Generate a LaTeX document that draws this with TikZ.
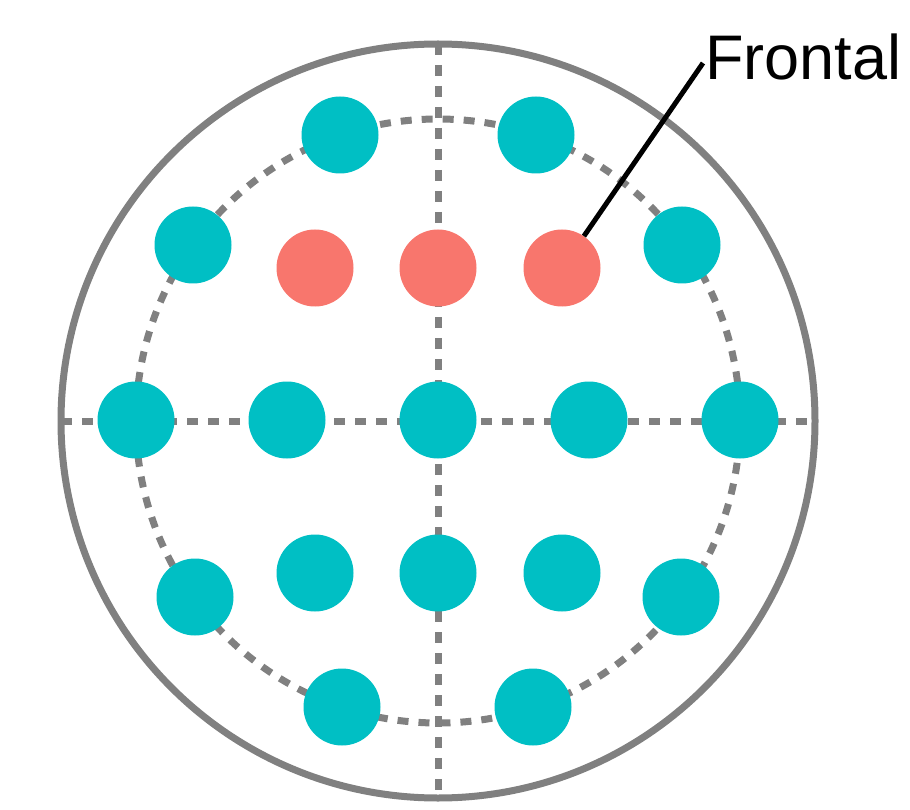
\documentclass[tikz,border=0pt]{standalone}
\usepackage{fontspec}
\setmainfont{Liberation Sans}
\definecolor{teal1}{RGB}{0,191,196}
\definecolor{red1}{RGB}{248,118,109}
\definecolor{gray1}{RGB}{128,128,128}
\tikzset{
  dot/.style={circle,minimum size=77pt,inner sep=0pt,fill=teal1},
  rdot/.style={dot,fill=red1},
  guide/.style={draw=gray1,line width=7pt,dash pattern=on 11pt off 10pt},
  rim/.style={draw=gray1,line width=7pt},
}
\begin{document}
\begin{tikzpicture}[x=1pt,y=-1pt]
\useasboundingbox (0,0) rectangle (910,810);
\coordinate (c) at (438,421);
\draw[rim] (c) circle[radius=377];
\draw[guide] (c) circle[radius=302];
\coordinate (hl) at (61,421);
\coordinate (hr) at (815,421);
\coordinate (vt) at (438,44);
\coordinate (vb) at (438,798);
\draw[guide] (hl) -- (hr);
\draw[guide] (vt) -- (vb);
% row 1
\node[dot] (a1) at (340,135) {};
\node[dot] (a2) at (536,135) {};
% row 2
\node[dot] (b1) at (193,245) {};
\node[rdot] (r1) at (315,268) {};
\node[rdot] (r2) at (438,268) {};
\node[rdot] (r3) at (562,268) {};
\node[dot] (b5) at (682,245) {};
% row 3
\node[dot] (c1) at (136,420) {};
\node[dot] (c2) at (287,420) {};
\node[dot] (c3) at (438,420) {};
\node[dot] (c4) at (589,420) {};
\node[dot] (c5) at (740,420) {};
% row 4
\node[dot] (d1) at (195,597) {};
\node[dot] (d2) at (315,573) {};
\node[dot] (d3) at (438,573) {};
\node[dot] (d4) at (562,573) {};
\node[dot] (d5) at (681,597) {};
% row 5
\node[dot] (e1) at (342,707) {};
\node[dot] (e2) at (533,707) {};
% label
\node[anchor=base west,inner sep=0pt,font=\fontsize{63}{63}\selectfont] (lab) at (705,80) {Frontal};
\coordinate (tip) at (703,63);
\draw[line width=5pt] (r3) -- (tip);
\end{tikzpicture}
\end{document}
